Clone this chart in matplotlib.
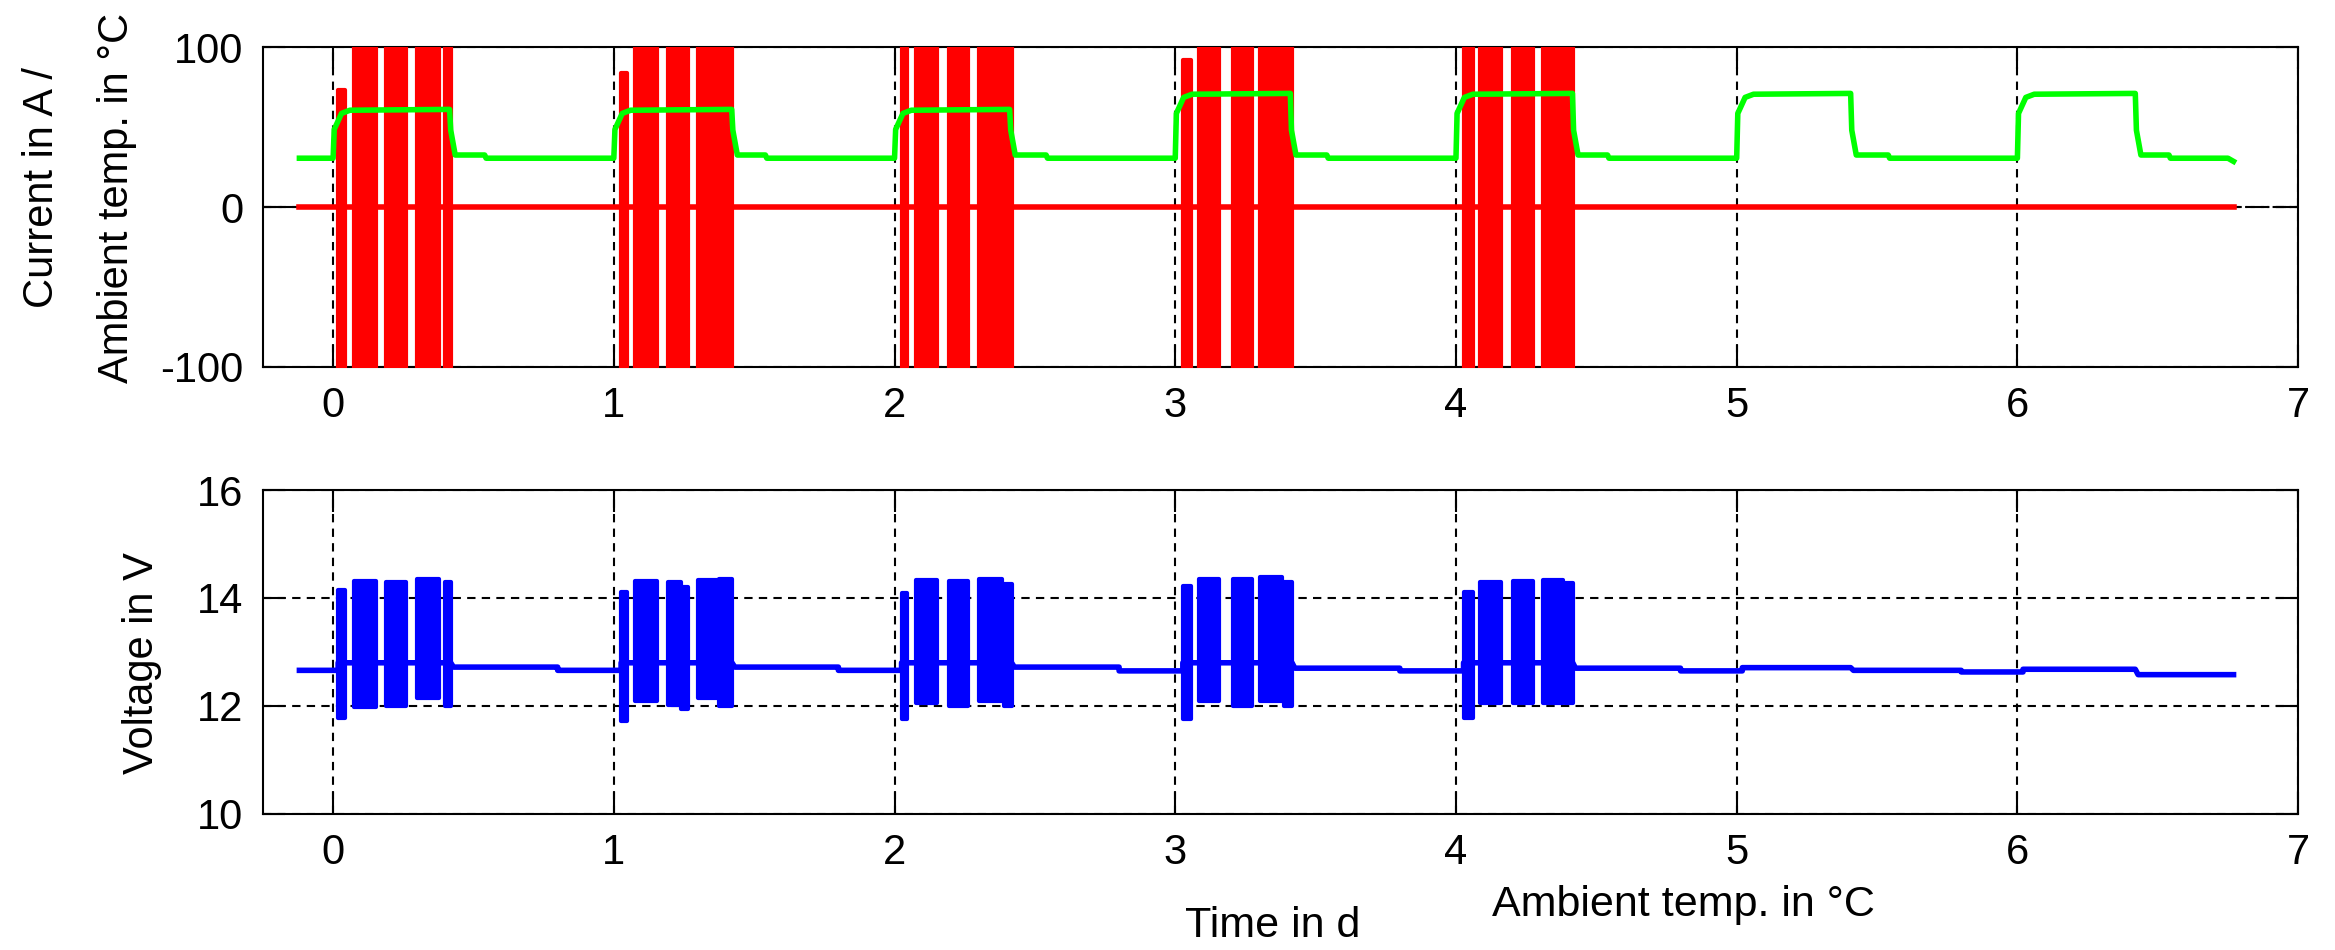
import numpy as np
import matplotlib
matplotlib.use("Agg")
import matplotlib.pyplot as plt

plt.rcParams['font.family'] = ['Liberation Sans', 'DejaVu Sans']
plt.rcParams['axes.unicode_minus'] = False

# --- data ------------------------------------------------------------------
days = [0, 1, 2, 3, 4, 5, 6]
t_first = -0.12          # start of the record (d)
t_last = 6.77            # end of the record (d)

# ambient temperature, one heating phase per day
temp_low = 30.5
temp_tail = 32.5
temp_high = [60.5, 60.5, 60.5, 70.5, 70.5, 70.5, 70.5]
temp_off = [0.415, 0.42, 0.41, 0.41, 0.415, 0.406, 0.42]

# current bursts (start / end within the day, upper value; lower value is off-scale)
burst_start = [
    [0.018, 0.074, 0.190, 0.300, 0.400],
    [0.026, 0.074, 0.193, 0.240, 0.299, 0.376],
    [0.025, 0.076, 0.195, 0.302, 0.391],
    [0.027, 0.085, 0.207, 0.302, 0.389],
    [0.027, 0.085, 0.203, 0.310, 0.389],
]
burst_end = [
    [0.044, 0.153, 0.259, 0.378, 0.419],
    [0.046, 0.155, 0.238, 0.265, 0.374, 0.421],
    [0.046, 0.151, 0.262, 0.383, 0.417],
    [0.057, 0.156, 0.272, 0.379, 0.416],
    [0.059, 0.160, 0.275, 0.382, 0.416],
]
cur_hi = [
    [73, 150, 150, 150, 150],
    [84, 150, 150, 150, 150, 150],
    [150, 150, 150, 150, 150],
    [92, 150, 150, 150, 150],
    [150, 150, 150, 150, 150],
]
cur_lo = -150

# voltage during the bursts
volt_hi = [
    [14.15, 14.32, 14.30, 14.35, 14.30],
    [14.12, 14.32, 14.30, 14.20, 14.33, 14.35],
    [14.10, 14.33, 14.32, 14.35, 14.25],
    [14.22, 14.35, 14.35, 14.38, 14.30],
    [14.12, 14.30, 14.32, 14.33, 14.28],
]
volt_lo = [
    [11.78, 11.98, 12.00, 12.15, 12.00],
    [11.72, 12.10, 12.02, 11.95, 12.15, 12.00],
    [11.75, 12.05, 12.00, 12.10, 12.00],
    [11.76, 12.10, 12.00, 12.10, 12.00],
    [11.78, 12.05, 12.05, 12.05, 12.05],
]
v_start = 12.66
v_burst = [12.80, 12.80, 12.80, 12.80, 12.80, 12.71, 12.68]
v_post = [12.72, 12.72, 12.72, 12.70, 12.70, 12.66, 12.58]
v_night = [12.66, 12.66, 12.65, 12.65, 12.65, 12.63, 12.58]

# --- build the traces ----------------------------------------------------
t_temp, y_temp = [t_first], [temp_low]
for d, hi, off in zip(days, temp_high, temp_off):
    t_temp += [d, d + 0.004, d + 0.03, d + 0.06, d + off, d + off + 0.004,
               d + off + 0.02, d + 0.54, d + 0.545]
    y_temp += [temp_low, hi - 12, hi - 2, hi, hi + 0.5, 48, temp_tail, temp_tail, temp_low]
t_temp += [t_last - 0.02, t_last]
y_temp += [temp_low, 28.5]

t_volt, y_volt = [t_first], [v_start]
for i, d in enumerate(days):
    if i < len(burst_start):
        a, b = burst_start[i][0], burst_end[i][-1]
    else:
        a, b = 0.02, temp_off[i]
    prev = v_start if i == 0 else v_night[i - 1]
    t_volt += [d + a, d + a, d + b, d + b + 0.01, d + 0.8, d + 0.8]
    y_volt += [prev, v_burst[i], v_burst[i], v_post[i], v_post[i], v_night[i]]
t_volt = [t for t in t_volt if t <= t_last] + [t_last]
y_volt = y_volt[:len(t_volt) - 1] + [y_volt[len(t_volt) - 2]]

# --- figure ---------------------------------------------------------------
fig = plt.figure(figsize=(23.35, 9.5), dpi=100)
ax1 = fig.add_axes([0.1126, 0.6137, 0.8716, 0.3368])
ax2 = fig.add_axes([0.1126, 0.1432, 0.8716, 0.3410])

grid_kw = dict(color='black', linestyle=(0, (4, 3)), linewidth=1.5)

# top: current + ambient temperature
ax1.axhline(0, color='black', linestyle='-.', linewidth=1.5, zorder=1)
ax1.plot([t_first, t_last], [0, 0], color='red', linewidth=4, zorder=3)
for i, d in enumerate(days[:len(burst_start)]):
    for s, e, hi in zip(burst_start[i], burst_end[i], cur_hi[i]):
        ax1.fill_between([d + s, d + e], cur_lo, hi, color='red',
                         edgecolor='red', linewidth=3, zorder=3)
ax1.plot(t_temp, y_temp, color='#00ff00', linewidth=4, zorder=4)
ax1.set_ylim(-100, 100)
ax1.set_yticks([-100, 0, 100])

# bottom: voltage
ax2.plot(t_volt, y_volt, color='blue', linewidth=4, zorder=4)
for i, d in enumerate(days[:len(burst_start)]):
    for s, e, hi, lo in zip(burst_start[i], burst_end[i], volt_hi[i], volt_lo[i]):
        ax2.fill_between([d + s, d + e], lo, hi, color='blue',
                         edgecolor='blue', linewidth=3, zorder=4)
ax2.set_ylim(10, 16)
ax2.set_yticks([10, 12, 14, 16])

for ax in (ax1, ax2):
    ax.set_xlim(-0.25, 7)
    ax.set_xticks(range(0, 8))
    ax.grid(True, **grid_kw)
    ax.set_axisbelow(True)
    ax.tick_params(direction='in', length=16, width=1.5, top=True, right=True,
                   labelsize=30, pad=14)
    for sp in ax.spines.values():
        sp.set_linewidth(1.5)

fig.text(0.018, 0.803, "Current in A /", rotation=90, ha='center', va='center', fontsize=30)
fig.text(0.050, 0.792, "Ambient temp. in °C", rotation=90, ha='center', va='center', fontsize=30)
fig.text(0.061, 0.302, "Voltage in V", rotation=90, ha='center', va='center', fontsize=30)
fig.text(0.545, 0.025, "Time in d", ha='center', va='center', fontsize=31)
fig.text(0.721, 0.047, "Ambient temp. in °C", ha='center', va='center', fontsize=31)

fig.savefig("out.png", dpi=100)
